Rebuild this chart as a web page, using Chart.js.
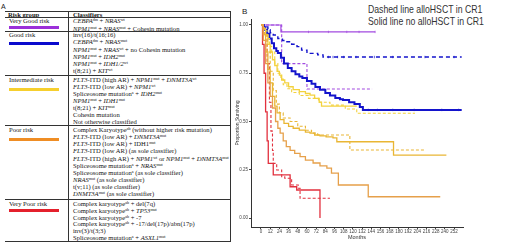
<!DOCTYPE html>
<html><head><meta charset="utf-8">
<script src="https://cdn.jsdelivr.net/npm/chart.js@4.4.1/dist/chart.umd.min.js"></script>
<style>
html,body{margin:0;padding:0;background:#fff;width:520px;height:248px;overflow:hidden;}
#wrap{position:relative;width:520px;height:248px;}
.t{position:absolute;font-family:"Liberation Serif","Times New Roman",serif;font-size:6.6px;line-height:7px;white-space:nowrap;color:#151515;transform:translateY(-50%);}
.t sup{font-size:0.62em;vertical-align:0.45em;line-height:0;}
.h{font-weight:bold;}
.hl{position:absolute;height:1px;background:#333;}
.vl{position:absolute;width:1px;background:#333;}
.bar{position:absolute;height:3px;}
.lbl{position:absolute;font-family:"Liberation Sans",Arial,sans-serif;color:#222;}
#leg{position:absolute;left:368px;top:3px;font-family:"Liberation Sans",Arial,sans-serif;font-size:11px;line-height:12px;color:#333;white-space:nowrap;transform:scaleX(0.79);transform-origin:0 0;}
#cv{position:absolute;left:232px;top:0;}
</style></head>
<body><div id="wrap">
<div class="lbl" style="left:1px;top:3px;font-size:7px;">A</div>
<div class="lbl" style="left:242px;top:7px;font-size:8px;">B</div>
<div id="leg">Dashed line alloHSCT in CR1<br>Solid line no alloHSCT in CR1</div>
<canvas id="cv" width="288" height="248"></canvas>
</div>
<script>
// ---------- Table content (panel A) ----------
const riskGroups = ['Very Good risk','Good risk','Intermediate risk','Poor risk','Very Poor risk'];
const riskColors = ['#9b30d9','#0a0acd','#f6cf2e','#ef8d24','#e4202c'];
const classifiers = [
 ['<i>CEBPA</i><sup>dm</sup> + <i>NRAS</i><sup>wt</sup>',
  '<i>NPM1</i><sup>mut</sup> + <i>NRAS</i><sup>mut</sup> + Cohesin mutation'],
 ['inv(16)/t(16;16)',
  '<i>CEBPA</i><sup>dm</sup> + <i>NRAS</i><sup>mut</sup>',
  '<i>NPM1</i><sup>mut</sup> + <i>NRAS</i><sup>wt</sup> + no Cohesin mutation',
  '<i>NPM1</i><sup>mut</sup> + <i>IDH2</i><sup>mut</sup>',
  '<i>NPM1</i><sup>mut</sup> + <i>IDH1/2</i><sup>wt</sup>',
  't(8;21) + <i>KIT</i><sup>wt</sup>'],
 ['<i>FLT3</i>-ITD (high AR) + <i>NPM1</i><sup>mut</sup> + <i>DNMT3A</i><sup>wt</sup>',
  '<i>FLT3</i>-ITD (low AR) + <i>NPM1</i><sup>wt</sup>',
  'Spliceosome mutation<sup>a</sup> + <i>IDH2</i><sup>mut</sup>',
  '<i>NPM1</i><sup>mut</sup> + <i>IDH1</i><sup>mut</sup>',
  't(8;21) + <i>KIT</i><sup>mut</sup>',
  'Cohesin mutation',
  'Not otherwise classified'],
 ['Complex Karyotype<sup>ab</sup> (without higher risk mutation)',
  '<i>FLT3</i>-ITD (low AR) + <i>DNMT3A</i><sup>mut</sup>',
  '<i>FLT3</i>-ITD (low AR) + IDH1<sup>mut</sup>',
  '<i>FLT3</i>-ITD (low AR) (as sole classifier)',
  '<i>FLT3</i>-ITD (high AR) + <i>NPM1</i><sup>wt</sup> or <i>NPM1</i><sup>mut</sup> + <i>DNMT3A</i><sup>mut</sup>',
  'Spliceosome mutation<sup>a</sup> + <i>NRAS</i><sup>mut</sup>',
  'Spliceosome mutation<sup>a</sup> (as sole classifier)',
  '<i>NRAS</i><sup>mut</sup> (as sole classifier)',
  't(v;11) (as sole classifier)',
  '<i>DNMT3A</i><sup>mut</sup> (as sole classifier)'],
 ['Complex karyotype<sup>ab</sup> + del(7q)',
  'Complex karyotype<sup>ab</sup> + <i>TP53</i><sup>mut</sup>',
  'Complex karyotype<sup>ab</sup> + -7',
  'Complex karyotype<sup>ab</sup> + -17/del(17p)/abn(17p)',
  'inv(3)/t(3;3)',
  'Spliceosome mutation<sup>a</sup> + <i>ASXL1</i><sup>mut</sup>']
];
// layout of the table
const rowFirstY = [20.3, 34.3, 78.5, 129, 202.7];
const rowStep = [8, 7.15, 7.15, 7.15, 6.9];
const rowBarY = [26, 42, 88, 138, 209];
const sepY = [30.5, 75, 125, 199.3];
const wrap = document.getElementById('wrap');
function add(cls, style, html){const d=document.createElement('div');d.className=cls;d.setAttribute('style',style);if(html)d.innerHTML=html;wrap.appendChild(d);return d;}
add('t h','left:8px;top:13.5px;','Risk group');
add('t h','left:73px;top:13.5px;','Classifiers');
add('hl','left:5px;top:10.5px;width:226px;');
add('hl','left:5px;top:16.5px;width:226px;height:1.3px;');
sepY.forEach(y=>add('hl','left:5px;top:'+y+'px;width:226px;'));
add('hl','left:5px;top:240.5px;width:226px;');
add('vl','left:68px;top:10.5px;height:230.5px;');
add('vl','left:230px;top:10.5px;height:230.5px;');
riskGroups.forEach((g,i)=>{
  add('t','left:9px;top:'+rowFirstY[i]+'px;',g);
  add('bar','left:9px;top:'+rowBarY[i]+'px;width:50px;background:'+riskColors[i]+';');
  classifiers[i].forEach((c,j)=>add('t','left:73px;top:'+(rowFirstY[i]+j*rowStep[i])+'px;',c));
});

// ---------- Chart data (panel B) ----------
const xTicks = [0,12,24,36,48,60,72,84,96,108,120,132,144,156,168,180,192,204,216,228,240,252];
const yTicks = [0,0.25,0.5,0.75,1];

// Very good risk
const vgSolidT = [0, 26, 149];
const vgSolidS = [1.0, 0.964, 0.964];
const vgDashT = [0, 27, 60, 145];
const vgDashS = [1.0, 0.80, 0.668, 0.668];
// Good risk
const gSolidT = [0,3,5,8,11,14,17,20,22,26,30,35,40,45,50,54,60,66,71,77,84,90,97,103,107,115,122,129,133,262];
const gSolidS = [1,0.99,0.975,0.955,0.93,0.905,0.88,0.865,0.855,0.83,0.80,0.777,0.76,0.745,0.733,0.725,0.71,0.695,0.679,0.665,0.648,0.635,0.622,0.615,0.611,0.60,0.59,0.575,0.56,0.56];
const gDashT = [0,6,9,12,16,22,28,31,40,47,53,60,74,81,262];
const gDashS = [1,0.99,0.975,0.96,0.948,0.93,0.92,0.913,0.90,0.888,0.87,0.853,0.845,0.834,0.834];
// Intermediate (upper yellow)
const iSolidT = [0,3,6,9,12,15,18,21,24,27,31,36,42,50,58,64,70,76,79,125];
const iSolidS = [1,0.98,0.95,0.90,0.86,0.82,0.79,0.76,0.74,0.715,0.70,0.68,0.665,0.655,0.645,0.637,0.62,0.60,0.58,0.58];
const iDashT = [0,4,8,11,14,18,22,26,29,34,40,50,62,75,90,110,125,201];
const iDashS = [1,0.97,0.93,0.89,0.86,0.80,0.75,0.72,0.69,0.67,0.65,0.635,0.62,0.60,0.585,0.565,0.543,0.543];
// Middle gold curves
const mSolidT = [0,3,6,9,12,15,18,21,25,30,36,42,50,58,64,70,77,85,94,99,173,242];
const mSolidS = [1,0.95,0.86,0.77,0.70,0.63,0.58,0.545,0.51,0.49,0.475,0.465,0.455,0.445,0.44,0.43,0.425,0.42,0.415,0.395,0.326,0.326];
const mDashT = [0,4,8,12,16,20,24,29,38,48,58,66,74,116,214];
const mDashS = [1,0.95,0.86,0.76,0.66,0.59,0.545,0.518,0.50,0.475,0.455,0.44,0.43,0.352,0.352];
// Poor (orange)
const pSolidT = [0,3,6,9,12,15,19,22,25,29,33,38,44,51,58,68,77,86,92,101,140,234];
const pSolidS = [1,0.92,0.80,0.70,0.63,0.57,0.50,0.465,0.44,0.40,0.37,0.35,0.335,0.318,0.30,0.285,0.27,0.258,0.233,0.171,0.11,0.11];
// Very poor (red)
const vpSolidT = [0,2,4,6,8,9.5,16,38,46.6,77];
const vpSolidS = [1,0.90,0.75,0.55,0.40,0.283,0.223,0.162,0.145,0.0];
const vpDashT = [0,4,8,11,13,15,16,20.5,27,31,40,48.7,51,90];
const vpDashS = [1,0.95,0.80,0.60,0.45,0.35,0.283,0.249,0.214,0.206,0.171,0.154,0.102,0.102];

// censoring marks (months)
const vgSolidCens = [62,88,112,128,149];
const gDashCens = [88,94,100,108,124,148,172,214,252];
const gSolidCens = [140,152,172,200,236,258];

function pts(T,S){return T.map((t,i)=>({x:t,y:S[i]}));}
function survAt(T,S,t){let s=S[0];for(let i=0;i<T.length;i++){if(T[i]<=t)s=S[i];}return s;}
function cens(C,T,S){return C.map(t=>({x:t,y:survAt(T,S,t)}));}
function line(T,S,color,width,dash){
  return {type:'line',data:pts(T,S),borderColor:color,borderWidth:width,borderDash:dash||[],stepped:'before',pointRadius:0,fill:false,tension:0};
}
function marks(C,T,S,color){
  return {type:'scatter',data:cens(C,T,S),pointStyle:'line',rotation:90,pointRadius:1.2,borderColor:color,pointBorderWidth:0.7,showLine:false};
}
const cPurple='#a24be0', cBlue='#1414cc', cYel='#f3d23e', cGold='#e9b634', cOr='#e6a04a', cRed='#e2303e';
const datasets = [
  line(pSolidT,pSolidS,cOr,1.3),
  line(mSolidT,mSolidS,cGold,1.3),
  line(mDashT,mDashS,cGold,1.1,[3,2]),
  line(iSolidT,iSolidS,cYel,1.3),
  line(iDashT,iDashS,cYel,1.1,[3,2]),
  line(vpSolidT,vpSolidS,cRed,1.3),
  line(vpDashT,vpDashS,cRed,1.1,[3,2]),
  line(gSolidT,gSolidS,cBlue,2),
  line(gDashT,gDashS,cBlue,1.4,[4,3]),
  line(vgSolidT,vgSolidS,cPurple,1.2),
  line(vgDashT,vgDashS,cPurple,1.1,[3,2]),
  marks(vgSolidCens,vgSolidT,vgSolidS,cPurple),
  marks(gDashCens,gDashT,gDashS,cBlue),
  marks(gSolidCens,gSolidT,gSolidS,cBlue)
];

new Chart(document.getElementById('cv'),{
  data:{datasets},
  options:{
    responsive:false,animation:false,devicePixelRatio:1,
    layout:{padding:{top:19,right:57,left:0,bottom:0}},
    plugins:{legend:{display:false},tooltip:{enabled:false}},
    scales:{
      x:{type:'linear',min:-13.05,max:263.7,
        afterBuildTicks:ax=>{ax.ticks=xTicks.map(v=>({value:v}));},
        afterFit:ax=>{ax.height=21;},
        ticks:{font:{size:4.5,family:'Liberation Sans'},color:'#444',padding:0.5,maxRotation:0,autoSkip:false},
        grid:{drawOnChartArea:false,drawTicks:true,tickLength:2,color:'#444'},
        border:{display:true,color:'#333',width:1},
        title:{display:true,text:'Months',font:{size:5.5,family:'Liberation Sans'},color:'#333',padding:{top:0,bottom:7.7}}
      },
      y:{type:'linear',min:-0.0466,max:1.031,
        afterBuildTicks:ax=>{ax.ticks=yTicks.map(v=>({value:v}));},
        afterFit:ax=>{ax.width=19;},
        ticks:{font:{size:4.5,family:'Liberation Sans'},color:'#444',padding:1,callback:v=>v.toFixed(2)},
        grid:{drawOnChartArea:false,drawTicks:true,tickLength:2,color:'#444'},
        border:{display:true,color:'#333',width:1},
        title:{display:true,text:'Proportion Surviving',font:{size:5,family:'Liberation Sans'},color:'#333',padding:{top:3,bottom:0}}
      }
    }
  }
});
</script>
</body></html>
